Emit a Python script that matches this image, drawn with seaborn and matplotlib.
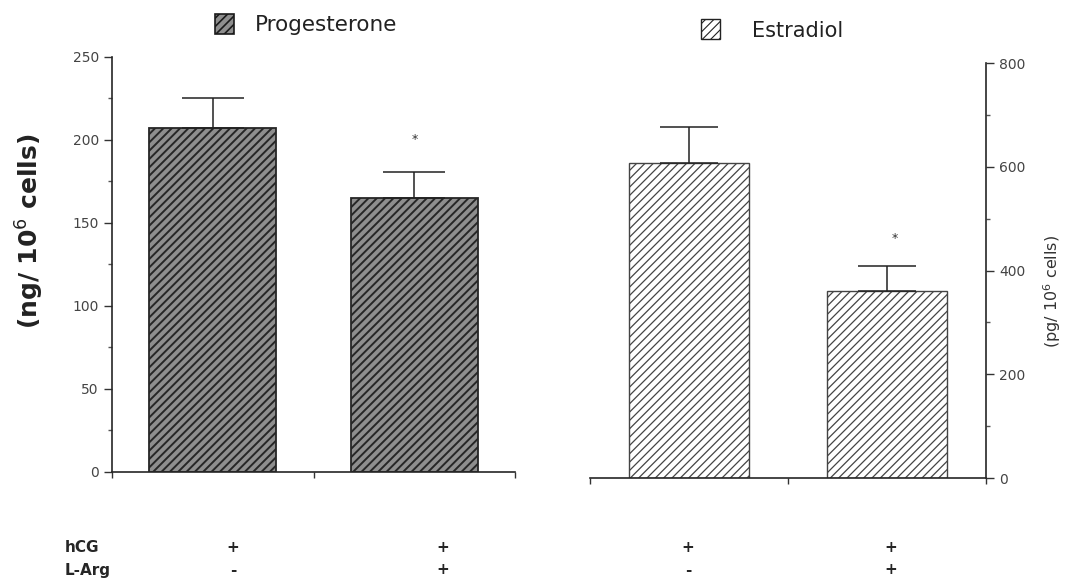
import matplotlib
matplotlib.use("Agg")
import matplotlib.pyplot as plt
import seaborn as sns
import pandas as pd
from matplotlib.patches import Rectangle
from matplotlib.ticker import MultipleLocator

# values
conditions = ["hCG", "hCG + L-Arg"]
prog_mean = [207, 165]
prog_err = [18, 16]
estr_mean = [607, 360]
estr_err = [70, 48]
hcg_signs = ["+", "+", "+", "+"]
larg_signs = ["-", "+", "-", "+"]

sns.set_style("ticks")
plt.rcParams["font.family"] = ["DejaVu Sans"]

fig = plt.figure(figsize=(10.73, 5.78), dpi=100)
ax1 = fig.add_axes([0.1044, 0.1834, 0.3756, 0.718])
ax2 = fig.add_axes([0.5499, 0.173, 0.369, 0.718])

df_p = pd.DataFrame({"cond": conditions, "val": prog_mean})
df_e = pd.DataFrame({"cond": conditions, "val": estr_mean})

plt.rcParams["hatch.linewidth"] = 1.4
sns.barplot(data=df_p, x="cond", y="val", ax=ax1, color="#8e8e8e",
            edgecolor="#262626", linewidth=1.3, hatch="////", width=0.63,
            saturation=1)
plt.rcParams["hatch.linewidth"] = 0.9
sns.barplot(data=df_e, x="cond", y="val", ax=ax2, color="white",
            edgecolor="#444444", linewidth=1.0, hatch="////", width=0.61,
            saturation=1)

# one-sided error bars
ax1.errorbar([0, 1], prog_mean, yerr=[[0, 0], prog_err], fmt="none",
             ecolor="#222222", elinewidth=1.1, capsize=22, capthick=1.1)
ax2.errorbar([0, 1], estr_mean, yerr=[[0, 0], estr_err], fmt="none",
             ecolor="#222222", elinewidth=1.1, capsize=21, capthick=1.1)

ax1.text(1, 200, "*", ha="center", va="center", fontsize=9, color="#333333")
ax2.text(1.04, 462, "*", ha="center", va="center", fontsize=9, color="#333333")

for ax in (ax1, ax2):
    ax.set_xlim(-0.5, 1.5)
    ax.set_xticks([-0.5, 0.5, 1.5])
    ax.set_xticklabels([])
    ax.set_xlabel("")
    ax.tick_params(axis="x", length=4, width=1, color="#333333")
    ax.tick_params(axis="y", labelsize=10, labelcolor="#444444",
                   length=6, width=1, color="#333333")
    ax.tick_params(axis="y", which="minor", length=3, width=1, color="#555555")
    ax.spines["top"].set_visible(False)
    ax.spines["bottom"].set_linewidth(1.2)
    ax.patch.set_alpha(0)

ax1.set_ylim(0, 250)
ax1.yaxis.set_major_locator(MultipleLocator(50))
ax1.yaxis.set_minor_locator(MultipleLocator(25))
ax1.spines["right"].set_visible(False)
ax1.spines["left"].set_linewidth(1.2)
ax1.set_ylabel("(ng/ 10$^6$ cells)", fontsize=18, fontweight="semibold",
               color="#222222")
ax1.yaxis.set_label_coords(-0.165, 0.58)

ax2.set_ylim(0, 800)
ax2.yaxis.set_major_locator(MultipleLocator(200))
ax2.yaxis.set_minor_locator(MultipleLocator(100))
ax2.spines["left"].set_visible(False)
ax2.spines["right"].set_linewidth(1.2)
ax2.yaxis.tick_right()
ax2.yaxis.set_label_position("right")
ax2.set_ylabel("(pg/ 10$^6$ cells)", fontsize=11.5, color="#333333",
               rotation=90)
ax2.yaxis.set_label_coords(1.14, 0.45)

# legend-style headers
W, H = 1073, 578
def fig_box(x0, y0, x1, y1):
    return (x0 / W, 1 - y1 / H), (x1 - x0) / W, (y1 - y0) / H

plt.rcParams["hatch.linewidth"] = 1.2
xy, w, h = fig_box(215, 14, 234, 34)
fig.patches.append(Rectangle(xy, w, h, transform=fig.transFigure,
                             facecolor="#8e8e8e", edgecolor="#1a1a1a",
                             hatch="////", linewidth=1.2))
plt.rcParams["hatch.linewidth"] = 0.8
xy, w, h = fig_box(701, 19, 720, 39)
fig.patches.append(Rectangle(xy, w, h, transform=fig.transFigure,
                             facecolor="white", edgecolor="#222222",
                             hatch="////", linewidth=1.0))
fig.text(255 / W, 1 - 25 / H, "Progesterone", fontsize=15.5, va="center",
         ha="left", color="#222222")
fig.text(752 / W, 1 - 31 / H, "Estradiol", fontsize=15, va="center",
         ha="left", color="#222222")

# treatment table under the bars
fig.text(65 / W, 1 - 547 / H, "hCG", fontsize=11, fontweight="bold",
         va="center", ha="left")
fig.text(65 / W, 1 - 570 / H, "L-Arg", fontsize=11, fontweight="bold",
         va="center", ha="left")
sign_x = [233, 443, 688, 891]
for xp, s1, s2 in zip(sign_x, hcg_signs, larg_signs):
    fig.text(xp / W, 1 - 547 / H, s1, fontsize=11, fontweight="bold",
             va="center", ha="center")
    fig.text(xp / W, 1 - 570 / H, s2, fontsize=11, fontweight="bold",
             va="center", ha="center")

fig.savefig("out.png", dpi=100)
